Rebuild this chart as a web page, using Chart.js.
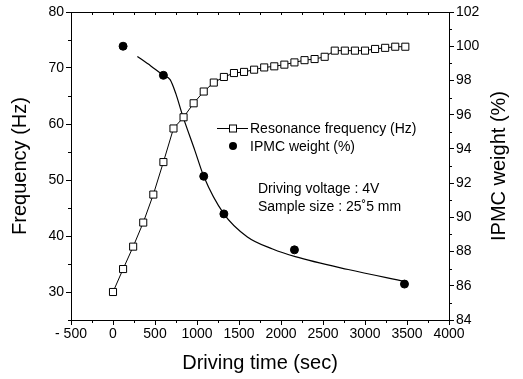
<!DOCTYPE html>
<html>
<head>
<meta charset="utf-8">
<script src="https://cdn.jsdelivr.net/npm/chart.js@4.4.0/dist/chart.umd.min.js"></script>
<style>
body { margin: 0; background: #fff; }
</style>
</head>
<body>
<canvas id="myChart" width="523" height="379"></canvas>
<script>
// resonance frequency (left axis), one square every 120 s
var freqTime = [0, 120, 240, 360, 480, 600, 720, 840, 960, 1080, 1200, 1320, 1440, 1560, 1680,
                1800, 1920, 2040, 2160, 2280, 2400, 2520, 2640, 2760, 2880, 3000, 3120, 3240, 3360, 3480];
var freqHz = [30.0, 34.1, 38.1, 42.4, 47.4, 53.2, 59.2, 61.2, 63.7, 65.8, 67.4, 68.4, 69.1, 69.3, 69.7,
              70.1, 70.3, 70.6, 71.0, 71.4, 71.6, 72.0, 73.1, 73.1, 73.1, 73.1, 73.4, 73.6, 73.8, 73.8];

// IPMC weight (right axis), measured dots
var weightTime = [120, 600, 1080, 1320, 2160, 3470];
var weightPct = [100.0, 98.3, 92.4, 90.2, 88.1, 86.1];

// fitted curve through the weight
var fitTime = [290, 450, 600, 680, 750, 825, 975, 1080, 1320, 1600, 1900, 2170, 2800, 3480];
var fitPct = [99.4, 98.85, 98.3, 98.05, 97.2, 96.0, 93.9, 92.4, 90.2, 88.85, 88.15, 87.7, 86.95, 86.25];

// axis ticks
var xTicks = [-500, 0, 500, 1000, 1500, 2000, 2500, 3000, 3500, 4000];
var xTickLabels = ['- 500', '0', '500', '1000', '1500', '2000', '2500', '3000', '3500', '4000'];
var xMinor = [-250, 250, 750, 1250, 1750, 2250, 2750, 3250, 3750];
var yTicks = [30, 40, 50, 60, 70, 80];
var yMinor = [25, 35, 45, 55, 65, 75];
var y2Ticks = [84, 86, 88, 90, 92, 94, 96, 98, 100, 102];
var y2Minor = [85, 87, 89, 91, 93, 95, 97, 99, 101];

var FONT = 'Liberation Sans, Arial, Helvetica, sans-serif';

function toXY(xs, ys) {
    var out = [];
    for (var i = 0; i < xs.length; i++) out.push({x: xs[i], y: ys[i]});
    return out;
}

// top border, minor ticks, axis titles, legend and notes
var frame = {
    id: 'frame',
    afterDraw: function(chart) {
        var ctx = chart.ctx, a = chart.chartArea;
        var sx = chart.scales.x, sy = chart.scales.y, sy2 = chart.scales.y2;
        ctx.save();
        ctx.strokeStyle = '#000';
        ctx.lineWidth = 1;
        ctx.beginPath();
        ctx.moveTo(a.left, Math.round(a.top) + 0.5);
        ctx.lineTo(a.right, Math.round(a.top) + 0.5);
        xMinor.forEach(function(v) {
            var p = Math.round(sx.getPixelForValue(v)) + 0.5;
            ctx.moveTo(p, a.bottom); ctx.lineTo(p, a.bottom + 3);
        });
        xMinor.concat(xTicks).forEach(function(v) {
            var p = Math.round(sx.getPixelForValue(v)) + 0.5;
            ctx.moveTo(p, a.top); ctx.lineTo(p, a.top + 3);
        });
        yMinor.forEach(function(v) {
            var p = Math.round(sy.getPixelForValue(v)) + 0.5;
            ctx.moveTo(a.left, p); ctx.lineTo(a.left - 3, p);
        });
        y2Minor.forEach(function(v) {
            var p = Math.round(sy2.getPixelForValue(v)) + 0.5;
            ctx.moveTo(a.right, p); ctx.lineTo(a.right + 3, p);
        });
        ctx.stroke();

        ctx.fillStyle = '#000';
        ctx.textAlign = 'center';
        ctx.textBaseline = 'middle';
        ctx.font = '20px ' + FONT;
        ctx.fillText('Driving time (sec)', (a.left + a.right) / 2, 363);
        ctx.save();
        ctx.translate(20, (a.top + a.bottom) / 2);
        ctx.rotate(-Math.PI / 2);
        ctx.fillText('Frequency (Hz)', 0, 0);
        ctx.restore();
        ctx.save();
        ctx.translate(499, (a.top + a.bottom) / 2);
        ctx.rotate(-Math.PI / 2);
        ctx.fillText('IPMC weight (%)', 0, 0);
        ctx.restore();

        // legend
        var lx = 217, ly = 128;
        ctx.beginPath();
        ctx.moveTo(lx, ly + 0.5); ctx.lineTo(lx + 31, ly + 0.5);
        ctx.stroke();
        ctx.fillStyle = '#fff';
        ctx.fillRect(lx + 12.5, ly - 3, 7, 7);
        ctx.strokeRect(lx + 12.5, ly - 3, 7, 7);
        ctx.fillStyle = '#000';
        ctx.beginPath();
        ctx.arc(lx + 16, ly + 18, 4, 0, Math.PI * 2);
        ctx.fill();
        ctx.textAlign = 'left';
        ctx.font = '14px ' + FONT;
        ctx.fillText('Resonance frequency (Hz)', lx + 33, ly + 1);
        ctx.fillText('IPMC weight (%)', lx + 33, ly + 19);
        ctx.fillText('Driving voltage : 4V', 258, 189);
        ctx.fillText('Sample size : 25\u02DA5 mm', 258, 207);
        ctx.restore();
    }
};

var tickFont = {family: FONT, size: 14};

var ctx = document.getElementById('myChart').getContext('2d');
var myChart = new Chart(ctx, {
    type: 'line',
    data: {
        datasets: [{
            label: 'Resonance frequency (Hz)',
            data: toXY(freqTime, freqHz),
            yAxisID: 'y',
            borderColor: '#000',
            borderWidth: 1,
            backgroundColor: '#fff',
            pointStyle: 'rect',
            pointRadius: 5,
            pointBorderColor: '#000',
            pointBackgroundColor: '#fff',
            pointBorderWidth: 1,
            tension: 0,
            order: 1
        }, {
            label: 'fit',
            data: toXY(fitTime, fitPct),
            yAxisID: 'y2',
            borderColor: '#000',
            borderWidth: 1.2,
            pointRadius: 0,
            cubicInterpolationMode: 'monotone',
            order: 3
        }, {
            label: 'IPMC weight (%)',
            data: toXY(weightTime, weightPct),
            yAxisID: 'y2',
            showLine: false,
            pointStyle: 'circle',
            pointRadius: 4,
            pointBackgroundColor: '#000',
            pointBorderColor: '#000',
            order: 2
        }]
    },
    options: {
        responsive: false,
        animation: false,
        devicePixelRatio: 1,
        layout: {padding: {top: 12, left: 0, right: 0, bottom: 0}},
        plugins: {legend: {display: false}, tooltip: {enabled: false}},
        scales: {
            x: {
                type: 'linear', position: 'bottom', min: -500, max: 4000,
                afterBuildTicks: function(s) { s.ticks = xTicks.map(function(v) { return {value: v}; }); },
                afterFit: function(s) { s.height = 59; },
                grid: {drawOnChartArea: false, color: '#000', tickLength: 5},
                border: {color: '#000', width: 1},
                ticks: {color: '#000', font: tickFont, padding: 1, maxRotation: 0, autoSkip: false,
                         callback: function(v) { return xTickLabels[xTicks.indexOf(v)]; }}
            },
            y: {
                position: 'left', min: 25, max: 80,
                afterBuildTicks: function(s) { s.ticks = yTicks.map(function(v) { return {value: v}; }); },
                afterFit: function(s) { s.width = 71; },
                grid: {drawOnChartArea: false, color: '#000', tickLength: 5},
                border: {color: '#000', width: 1},
                ticks: {color: '#000', font: tickFont, padding: 2}
            },
            y2: {
                position: 'right', min: 84, max: 102,
                afterBuildTicks: function(s) { s.ticks = y2Ticks.map(function(v) { return {value: v}; }); },
                afterFit: function(s) { s.width = 74; },
                grid: {drawOnChartArea: false, color: '#000', tickLength: 5},
                border: {color: '#000', width: 1},
                ticks: {color: '#000', font: tickFont, padding: 2}
            }
        }
    },
    plugins: [frame]
});
</script>
</body>
</html>
